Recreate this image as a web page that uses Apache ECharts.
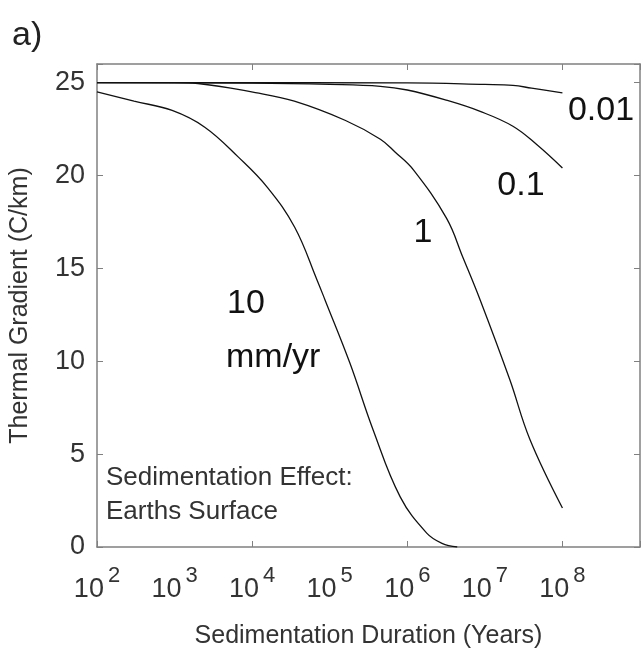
<!DOCTYPE html>
<html>
<head>
<meta charset="utf-8">
<script src="https://cdn.jsdelivr.net/npm/echarts@6/dist/echarts.min.js"></script>
<style>
  html, body { margin: 0; padding: 0; background: #fff; }
  #chart { width: 643px; height: 657px; }
</style>
</head>
<body>
<div id="chart"></div>
<script>
// durations (years) and thermal gradient (C/km) for each sedimentation rate
var years10 = [100, 300, 930, 2450, 6600, 15800, 35500, 69000, 87000, 182000, 363000, 810000, 1780000, 2800000, 4400000];
var grad10 = [24.5, 24.0, 23.5, 22.6, 21.0, 19.35, 17.2, 14.35, 13.3, 9.9, 6.3, 2.7, 0.75, 0.2, 0];

var years1 = [100, 1000, 2000, 11000, 35000, 160000, 450000, 700000, 1200000, 3200000, 5200000, 8700000, 21000000, 38000000, 100000000];
var grad1 = [25, 25, 24.95, 24.46, 24.0, 22.96, 21.95, 21.25, 20.3, 17.7, 15.6, 13.3, 9.0, 5.8, 2.1];

var years01 = [100, 10000, 100000, 450000, 1000000, 3200000, 8700000, 23000000, 47000000, 100000000];
var grad01 = [25, 24.97, 24.9, 24.8, 24.6, 24.05, 23.45, 22.65, 21.65, 20.4];

var years001 = [100, 1000000, 10000000, 23000000, 40000000, 100000000];
var grad001 = [25, 24.98, 24.9, 24.85, 24.7, 24.45];

var rateLabels = ['10', '1', '0.1', '0.01'];

var font = '"Liberation Sans", Arial, sans-serif';
var boxColor = '#808080';

function pairs(xs, ys) {
  return xs.map(function (x, i) { return [x, ys[i]]; });
}

function curve(name, xs, ys) {
  return {
    name: name,
    type: 'line',
    data: pairs(xs, ys),
    showSymbol: false,
    smooth: 0.4,
    lineStyle: { color: '#111', width: 1.3 },
    silent: true
  };
}

var chart = echarts.init(document.getElementById('chart'));

// tick-only axes (ticks every two decades, as in the figure)
function tickAxis(pos) {
  return {
    type: 'value',
    position: pos,
    min: 2,
    max: 9,
    interval: 2,
    axisLine: { show: pos === 'top', lineStyle: { color: boxColor, width: 1.5 } },
    axisTick: { show: true, inside: true, length: 6, lineStyle: { color: boxColor } },
    axisLabel: { show: false },
    splitLine: { show: false }
  };
}

chart.setOption({
  backgroundColor: '#fff',
  animation: false,
  grid: { left: 97, top: 64, right: 3, bottom: 110, containLabel: false },
  xAxis: [
    {
      type: 'log',
      logBase: 10,
      min: 100,
      max: 1e9,
      position: 'bottom',
      name: 'Sedimentation Duration (Years)',
      nameLocation: 'middle',
      nameGap: 77,
      nameTextStyle: { fontFamily: font, fontSize: 25, color: '#333' },
      axisLine: { show: true, lineStyle: { color: boxColor, width: 1.5 } },
      axisTick: { show: false },
      splitLine: { show: false },
      axisLabel: {
        margin: 18,
        formatter: function (v) {
          var e = Math.round(Math.log10(v));
          if (e > 8) return '';
          return '{b|10}{s|' + e + '}';
        },
        rich: {
          b: { fontFamily: font, fontSize: 27, color: '#333', verticalAlign: 'bottom', lineHeight: 30 },
          s: { fontFamily: font, fontSize: 22, color: '#333', verticalAlign: 'bottom', padding: [0, 0, 16, 4] }
        }
      }
    },
    tickAxis('bottom'),
    tickAxis('top')
  ],
  yAxis: [
    {
      type: 'value',
      min: 0,
      max: 26,
      interval: 5,
      position: 'left',
      name: 'Thermal Gradient (C/km)',
      nameLocation: 'middle',
      nameGap: 64,
      nameTextStyle: { fontFamily: font, fontSize: 25, color: '#333' },
      axisLine: { show: true, lineStyle: { color: boxColor, width: 1.5 } },
      axisTick: { show: true, inside: true, length: 6, lineStyle: { color: boxColor } },
      axisLabel: {
        margin: 12,
        fontFamily: font,
        fontSize: 27,
        color: '#333',
        formatter: function (v) { return v % 5 === 0 ? String(v) : ''; }
      },
      splitLine: { show: false }
    },
    {
      type: 'value',
      min: 0,
      max: 26,
      interval: 5,
      position: 'right',
      axisLine: { show: true, lineStyle: { color: boxColor, width: 1.5 } },
      axisTick: { show: true, inside: true, length: 6, lineStyle: { color: boxColor } },
      axisLabel: { show: false },
      splitLine: { show: false }
    }
  ],
  graphic: [
    { type: 'text', x: 12, y: 36, style: { text: 'a)', font: '34px ' + font, fill: '#222', verticalAlign: 'middle' } },
    { type: 'text', x: 601, y: 111, style: { text: rateLabels[3], font: '34px ' + font, fill: '#111', align: 'center', verticalAlign: 'middle' } },
    { type: 'text', x: 521, y: 186, style: { text: rateLabels[2], font: '34px ' + font, fill: '#111', align: 'center', verticalAlign: 'middle' } },
    { type: 'text', x: 423, y: 233, style: { text: rateLabels[1], font: '34px ' + font, fill: '#111', align: 'center', verticalAlign: 'middle' } },
    { type: 'text', x: 246, y: 304, style: { text: rateLabels[0], font: '34px ' + font, fill: '#111', align: 'center', verticalAlign: 'middle' } },
    { type: 'text', x: 226, y: 358, style: { text: 'mm/yr', font: '34px ' + font, fill: '#111', align: 'left', verticalAlign: 'middle' } },
    { type: 'text', x: 106, y: 478, style: { text: 'Sedimentation Effect:', font: '26px ' + font, fill: '#333', align: 'left', verticalAlign: 'middle' } },
    { type: 'text', x: 106, y: 512, style: { text: 'Earths Surface', font: '26px ' + font, fill: '#333', align: 'left', verticalAlign: 'middle' } }
  ],
  series: [
    curve('10 mm/yr', years10, grad10),
    curve('1 mm/yr', years1, grad1),
    curve('0.1 mm/yr', years01, grad01),
    curve('0.01 mm/yr', years001, grad001)
  ]
});
</script>
</body>
</html>
